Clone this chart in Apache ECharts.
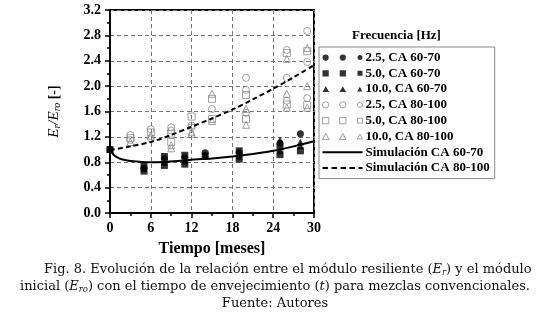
<!DOCTYPE html>
<html><head><meta charset="utf-8">
<script src="https://cdn.jsdelivr.net/npm/echarts@6/dist/echarts.min.js"></script>
<style>html,body{margin:0;padding:0;background:#fff}#c{width:550px;height:319px}</style>
</head><body><div id="c"></div>
<script>
// ---- data (months, E/Ero) ----
const xTicks = [0, 6, 12, 18, 24, 30];
const yTicks = [0, 0.4, 0.8, 1.2, 1.6, 2.0, 2.4, 2.8, 3.2];

// CA 60-70 (filled)
const m25_60 = [0, 5, 8, 11, 14, 19, 25, 28];
const v25_60 = [1.00, 0.71, 0.85, 0.87, 0.95, 0.95, 1.10, 1.25];
const m50_60 = [0, 5, 5, 8, 8, 11, 11, 14, 19, 19, 25, 25, 28];
const v50_60 = [1.00, 0.66, 0.75, 0.75, 0.89, 0.77, 0.91, 0.90, 0.85, 0.98, 0.92, 1.04, 0.98];
const m10_60 = [0, 5, 8, 11, 14, 19, 25, 25, 28, 28];
const v10_60 = [1.00, 0.70, 0.80, 0.82, 0.92, 0.90, 0.98, 1.15, 1.06, 1.12];

// CA 80-100 (open)
const m25_80 = [3, 3, 6, 6, 9, 9, 12, 12, 15, 20, 20, 20, 26, 26, 26, 29, 29, 29];
const v25_80 = [1.23, 1.15, 1.32, 1.18, 1.35, 1.30, 1.38, 1.35, 1.64, 2.13, 1.94, 1.58, 2.57, 2.13, 1.77, 2.87, 2.38, 1.81];
const m50_80 = [3, 6, 9, 9, 12, 15, 15, 20, 20, 26, 26, 29, 29];
const v50_80 = [1.18, 1.27, 1.25, 1.12, 1.52, 1.80, 1.48, 1.86, 1.48, 2.52, 1.71, 2.55, 1.70];
const m10_80 = [3, 6, 9, 9, 12, 12, 15, 15, 20, 20, 26, 26, 26, 29, 29, 29];
const v10_80 = [1.12, 1.22, 1.07, 1.02, 1.28, 1.25, 1.88, 1.45, 1.64, 1.39, 2.43, 1.88, 1.66, 2.60, 2.00, 1.66];

// Simulation curves
const simT60 = [0, 0.5, 1, 1.5, 2, 3, 4, 6, 8, 10, 12, 15, 18, 21, 24, 27, 30];
const sim60  = [1.00, 0.92, 0.88, 0.855, 0.84, 0.82, 0.81, 0.80, 0.805, 0.82, 0.84, 0.86, 0.89, 0.93, 0.98, 1.05, 1.13];
const simT80 = [0, 3, 6, 9, 12, 15, 18, 21, 24, 27, 30];
const sim80  = [0.99, 1.05, 1.12, 1.23, 1.36, 1.49, 1.63, 1.79, 1.96, 2.14, 2.33];

const names = ['2.5, CA 60-70', '5.0, CA 60-70', '10.0, CA 60-70',
  '2.5, CA 80-100', '5.0, CA 80-100', '10.0, CA 80-100',
  'Simulación CA 60-70', 'Simulación CA 80-100'];

// ---- build ----
const zip = (a, b) => a.map((x, i) => [x, b[i]]);
const serif = 'Liberation Serif';
const CAP = 'DejaVu Serif';
const GRAY = '#8a8a8a';
const OPEN = { color: 'rgba(0,0,0,0)', borderColor: GRAY, borderWidth: 1 };

function circ(cx, cy, r) { return `M${cx - r} ${cy} A${r} ${r} 0 1 0 ${cx + r} ${cy} A${r} ${r} 0 1 0 ${cx - r} ${cy} Z`; }
function sq(cx, cy, h) { return `M${cx - h} ${cy - h} L${cx + h} ${cy - h} L${cx + h} ${cy + h} L${cx - h} ${cy + h} Z`; }
function tri(cx, cy, h) { return `M${cx} ${cy - h} L${cx + h} ${cy + h * 0.8} L${cx - h} ${cy + h * 0.8} Z`; }
const xs = [3.5, 20, 36.5];
const iconCirc = 'path://' + xs.map((x, i) => circ(x, 3.5, i < 2 ? 3 : 2.4)).join(' ');
const iconSq = 'path://' + xs.map((x, i) => sq(x, 3.5, i < 2 ? 3 : 2.4)).join(' ');
const iconTri = 'path://' + xs.map((x, i) => tri(x, 3.5, i < 2 ? 3.2 : 2.6)).join(' ');
const lineSolid = 'path://M0 2.4 L40 2.4 L40 4.4 L0 4.4 Z';
let dash = '';
for (let x = 0; x < 40; x += 9) dash += `M${x} 2.4 L${Math.min(x + 5.5, 40)} 2.4 L${Math.min(x + 5.5, 40)} 4.4 L${x} 4.4 Z `;
const lineDash = 'path://' + dash;

function scatter(name, m, v, symbol, size, style) {
  return { name, type: 'scatter', data: zip(m, v), symbol, symbolSize: size, itemStyle: style, z: 3 };
}
const capStyle = { fontFamily: CAP, fontWeight: 'normal', fontSize: 13, color: '#111',
  rich: { it: { fontFamily: CAP, fontStyle: 'italic', fontSize: 13, color: '#111' },
          sub: { fontFamily: CAP, fontStyle: 'italic', fontSize: 8.5, color: '#111', padding: [5, 0, 0, 0] } } };

const chart = echarts.init(document.getElementById('c'), null, { renderer: 'canvas' });
chart.setOption({
  animation: false,
  backgroundColor: '#fff',
  textStyle: { fontFamily: serif },
  grid: { left: 110, right: 236, top: 10, bottom: 106, show: true, borderColor: '#000', borderWidth: 2, backgroundColor: 'transparent' },
  title: [
    { text: 'Frecuencia [Hz]', left: 352, top: 29, padding: 0, textStyle: { fontFamily: serif, fontWeight: 'bold', fontSize: 13, color: '#000' } },
    { text: 'Fig. 8. Evolución de la relación entre el módulo resiliente ({it|E}{sub|r}) y el módulo', left: 44, top: 263, padding: 0, textStyle: capStyle },
    { text: 'inicial ({it|E}{sub|ro}) con el tiempo de envejecimiento ({it|t}) para mezclas convencionales.', left: 20, top: 280, padding: 0, textStyle: capStyle },
    { text: 'Fuente: Autores', left: 'center', top: 297, padding: 0, textStyle: { fontFamily: CAP, fontWeight: 'normal', fontSize: 13, color: '#111' } }
  ],
  legend: {
    orient: 'vertical', left: 319, top: 47,
    padding: [4, 5, 4, 3], itemGap: 2.8, itemWidth: 40, itemHeight: 7,
    borderColor: '#8a8a8a', borderWidth: 1,
    textStyle: { fontFamily: serif, fontWeight: 'bold', fontSize: 13, color: '#000', padding: [0, 0, 0, -2] },
    data: [
      { name: names[0], icon: iconCirc, itemStyle: { color: '#000', borderWidth: 0 } },
      { name: names[1], icon: iconSq, itemStyle: { color: '#000', borderWidth: 0 } },
      { name: names[2], icon: iconTri, itemStyle: { color: '#000', borderWidth: 0 } },
      { name: names[3], icon: iconCirc, itemStyle: OPEN },
      { name: names[4], icon: iconSq, itemStyle: OPEN },
      { name: names[5], icon: iconTri, itemStyle: OPEN },
      { name: names[6], icon: lineSolid, itemStyle: { color: '#000', borderWidth: 0 } },
      { name: names[7], icon: lineDash, itemStyle: { color: '#000', borderWidth: 0 } }
    ]
  },
  xAxis: {
    type: 'value', min: 0, max: 30, interval: 6,
    name: 'Tiempo [meses]', nameLocation: 'middle', nameGap: 28,
    nameTextStyle: { fontFamily: serif, fontWeight: 'bold', fontSize: 16, color: '#000' },
    axisLine: { show: true, lineStyle: { color: '#000', width: 2 } },
    axisTick: { show: true, inside: false, length: 5, lineStyle: { color: '#000', width: 1.5 } },
    minorTick: { show: true, splitNumber: 2, length: 3, lineStyle: { color: '#000', width: 1.5 } },
    axisLabel: { margin: 8, fontFamily: serif, fontWeight: 'bold', fontSize: 14, color: '#000',
      formatter: v => xTicks.includes(v) ? String(v) : '' },
    splitLine: { show: true, lineStyle: { color: '#777', type: [4, 3], width: 1 } }
  },
  yAxis: {
    type: 'value', min: 0, max: 3.2, interval: 0.4,
    name: '{i|E}{s|r}{i|/E}{s|ro}{b| [-]}', nameLocation: 'middle', nameGap: 48,
    nameTextStyle: { fontFamily: serif, fontSize: 15, color: '#000',
      rich: {
        i: { fontFamily: serif, fontStyle: 'italic', fontSize: 15, color: '#000' },
        s: { fontFamily: serif, fontStyle: 'italic', fontSize: 10, color: '#000', padding: [6, 0, 0, 0] },
        b: { fontFamily: serif, fontWeight: 'bold', fontSize: 14, color: '#000' }
      } },
    axisLine: { show: true, lineStyle: { color: '#000', width: 2 } },
    axisTick: { show: true, inside: false, length: 5, lineStyle: { color: '#000', width: 1.5 } },
    minorTick: { show: true, splitNumber: 2, length: 3, lineStyle: { color: '#000', width: 1.5 } },
    axisLabel: { margin: 9, fontFamily: serif, fontWeight: 'bold', fontSize: 14, color: '#000',
      formatter: v => { const t = yTicks.find(y => Math.abs(y - v) < 1e-6); return t === undefined ? '' : t.toFixed(1); } },
    splitLine: { show: true, lineStyle: { color: '#777', type: [4, 3], width: 1 } }
  },
  series: [
    scatter(names[0], m25_60, v25_60, 'circle', 7, { color: '#000' }),
    scatter(names[1], m50_60, v50_60, 'rect', 7, { color: '#000' }),
    scatter(names[2], m10_60, v10_60, 'triangle', 7, { color: '#000' }),
    scatter(names[3], m25_80, v25_80, 'circle', 7, OPEN),
    scatter(names[4], m50_80, v50_80, 'rect', 7, OPEN),
    scatter(names[5], m10_80, v10_80, 'triangle', 7, OPEN),
    { name: names[6], type: 'line', data: zip(simT60, sim60), smooth: 0.3, showSymbol: false, symbol: 'none',
      lineStyle: { color: '#000', width: 2 }, itemStyle: { color: '#000' }, z: 4 },
    { name: names[7], type: 'line', data: zip(simT80, sim80), smooth: 0.3, showSymbol: false, symbol: 'none',
      lineStyle: { color: '#000', width: 2, type: [5, 3] }, itemStyle: { color: '#000' }, z: 4 }
  ]
});
</script></body></html>
